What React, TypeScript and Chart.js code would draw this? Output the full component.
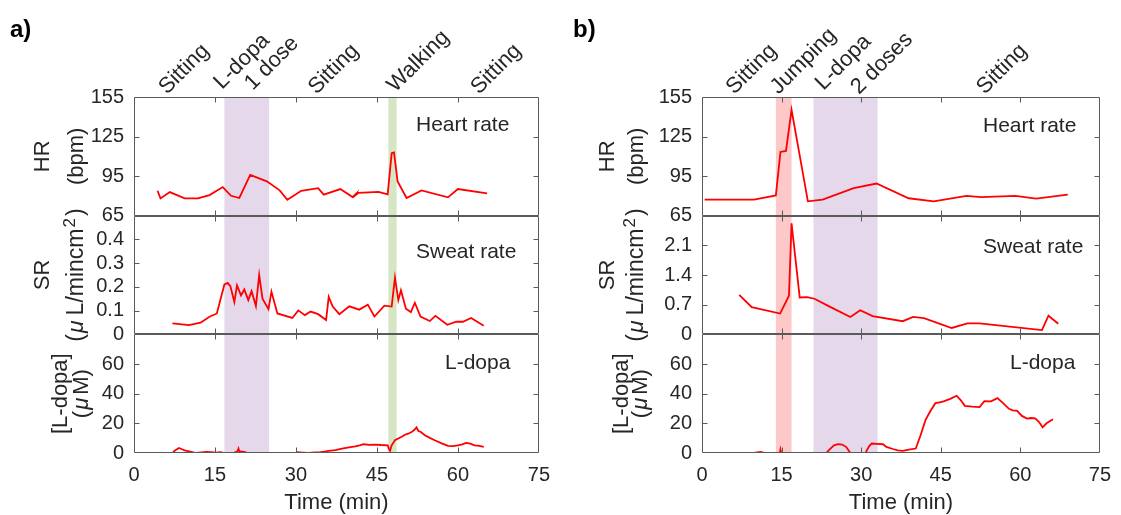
import React, { useEffect, useRef } from 'react';
import { Chart, registerables } from 'chart.js';

Chart.register(...registerables);

const FONT = '"Liberation Sans", Arial, Helvetica, sans-serif';
const TEXT = '#262626';
const FRAME = '#5a5a5a';
const LINE = '#ff0000';

// ---------- shared ticks ----------
const xTicks = [0, 15, 30, 45, 60, 75];
const hrTicks = [65, 95, 125, 155];
const srTicksA = [0, 0.1, 0.2, 0.3, 0.4];
const srTicksB = [0, 0.7, 1.4, 2.1];
const ldTicks = [0, 20, 40, 60];

// ---------- panel a data ----------
const hrTimeA = [4.36, 4.91, 6.63, 9.39, 11.84, 13.99, 16.44, 17.98, 19.51, 21.53, 24.6, 26.99, 28.4, 30.98, 34.11, 35.15, 38.22, 40.49, 41.17, 41.0, 41.6, 45.28, 46.99, 47.73, 48.16, 48.83, 50.49, 53.25, 58.16, 60.0, 65.4];
const hrA = [83.9, 78.1, 82.9, 78.1, 78.1, 80.6, 86.7, 80.1, 78.4, 96.0, 91.0, 84.2, 77.1, 83.9, 85.9, 80.9, 85.2, 79.1, 81.8, 80.4, 82.3, 83.1, 81.1, 112.4, 112.9, 91.0, 78.4, 84.2, 78.9, 85.2, 81.9];

const srTimeA = [7.12, 10.18, 12.33, 13.99, 15.34, 16.75, 17.36, 17.85, 18.59, 19.08, 19.82, 20.43, 21.17, 21.78, 22.58, 23.19, 23.8, 24.91, 25.46, 26.56, 29.33, 30.43, 31.66, 32.7, 34.11, 35.58, 36.07, 36.81, 38.04, 39.88, 41.72, 43.31, 44.54, 46.38, 47.73, 48.34, 48.96, 49.45, 50.37, 51.29, 52.02, 53.07, 54.79, 55.83, 58.04, 59.69, 60.92, 62.45, 64.79];
const srA = [0.046, 0.039, 0.049, 0.074, 0.088, 0.21, 0.217, 0.203, 0.136, 0.206, 0.164, 0.189, 0.144, 0.182, 0.119, 0.25, 0.15, 0.106, 0.18, 0.088, 0.069, 0.101, 0.081, 0.096, 0.085, 0.06, 0.158, 0.117, 0.085, 0.118, 0.104, 0.125, 0.075, 0.121, 0.117, 0.239, 0.144, 0.186, 0.108, 0.094, 0.133, 0.075, 0.056, 0.078, 0.04, 0.053, 0.053, 0.069, 0.036];

const ldTimeA = [7.24, 7.8, 8.34, 8.9, 9.39, 10.4, 11.53, 12.5, 13.37, 14.3, 15.21, 16.0, 16.75, 17.67, 19.2, 19.35, 19.51, 19.82, 20.3, 20.74, 21.04, 25.03, 29.94, 30.25, 31.3, 32.39, 33.5, 34.54, 35.3, 36.07, 37.3, 38.53, 39.8, 40.98, 41.8, 42.52, 43.6, 44.66, 45.8, 46.99, 47.2, 47.42, 47.73, 48.34, 48.96, 49.6, 50.18, 50.8, 51.41, 51.9, 52.33, 52.64, 53.2, 53.87, 54.8, 55.71, 57.0, 58.16, 59.1, 60.0, 60.8, 61.53, 62.3, 63.07, 64.0, 64.79];
const ldA = [0.7, 2.2, 3.4, 2.5, 1.8, 1.0, 0.0, 0.4, 0.7, 0.5, 0.2, 0.6, 0.0, -1.5, 1.4, 3.0, 1.2, 1.0, 0.8, 0.5, -1.5, -2.0, -1.5, 0.5, 0.3, 0.0, 0.4, 0.5, 1.0, 1.4, 2.0, 3.0, 3.8, 4.5, 5.2, 5.9, 5.5, 5.7, 5.4, 5.2, 3.0, 1.4, 5.2, 8.6, 9.8, 11.0, 12.3, 13.0, 14.1, 15.5, 17.3, 15.0, 14.0, 12.0, 10.2, 8.6, 6.5, 4.8, 4.6, 5.2, 5.8, 6.8, 6.3, 5.2, 4.8, 4.1];

const bandStartA = [16.75, 47.12];
const bandEndA = [25.03, 48.65];
const bandKindA = ['purple', 'green'];
const activityA = ['Sitting', 'L-dopa', '1 dose', 'Sitting', 'Walking', 'Sitting'];

// ---------- panel b data ----------
const hrTimeB = [0.5, 9.8, 13.92, 14.79, 15.83, 16.88, 19.96, 22.74, 28.59, 32.9, 38.94, 43.68, 49.85, 52.62, 59.09, 62.97, 68.95];
const hrB = [77.2, 77.2, 80.3, 113.3, 114.1, 145.3, 75.9, 77.2, 85.8, 89.4, 78.2, 75.9, 80.0, 79.0, 80.0, 78.0, 81.0];

const srTimeB = [7.02, 9.37, 14.73, 16.39, 16.88, 18.42, 19.84, 21.2, 23.97, 27.97, 29.82, 32.16, 37.83, 39.8, 41.84, 47.07, 50.03, 52.31, 64.08, 65.31, 67.16];
const srB = [0.93, 0.64, 0.49, 0.91, 2.62, 0.87, 0.88, 0.84, 0.66, 0.41, 0.57, 0.43, 0.31, 0.41, 0.38, 0.15, 0.26, 0.26, 0.10, 0.44, 0.25];

const ldTimeB = [9.8, 11.03, 11.95, 13.19, 14.54, 14.79, 15.03, 23.04, 23.54, 24.2, 24.89, 25.6, 26.43, 27.2, 27.97, 28.59, 30.75, 31.06, 31.5, 31.98, 33.0, 34.13, 34.75, 35.98, 36.9, 37.83, 39.0, 40.3, 41.2, 42.14, 43.0, 43.99, 44.8, 45.53, 46.8, 48.0, 48.8, 49.54, 50.9, 52.31, 53.23, 54.47, 55.7, 56.8, 57.86, 58.6, 59.4, 60.3, 61.24, 62.0, 62.79, 63.5, 64.2, 64.94, 66.17];
const ldB = [0.0, 0.7, 0.0, -2.0, -2.0, 2.3, -2.0, -2.0, 0.5, 3.0, 5.2, 6.0, 5.7, 4.0, 0.0, -2.0, -1.0, 1.8, 4.5, 6.4, 6.2, 5.9, 4.1, 2.7, 1.8, 1.4, 2.3, 3.0, 12.0, 22.3, 28.0, 33.6, 34.2, 34.8, 36.5, 38.6, 35.5, 31.8, 31.2, 30.9, 35.0, 34.8, 37.0, 33.5, 29.8, 28.8, 28.4, 25.0, 23.2, 23.6, 23.4, 21.0, 17.3, 20.0, 22.7];

const bandStartB = [13.92, 21.01];
const bandEndB = [16.88, 33.09];
const bandKindB = ['red', 'purple'];
const activityB = ['Sitting', 'Jumping', 'L-dopa', '2 doses', 'Sitting'];

// ---------- styling / layout ----------
const BAND_COLORS: Record<string, string> = {
  purple: 'rgb(228,216,234)',
  green: 'rgb(214,230,196)',
  red: 'rgb(252,200,200)',
};

type Spec = {
  label: string;
  labelX: number;
  canvasLeft: number;
  canvasWidth: number;
  axisWidth: number;
  padRight: number;
  hrT: number[]; hr: number[];
  srT: number[]; sr: number[];
  ldT: number[]; ld: number[];
  srMax: number; srTicks: number[];
  bandStart: number[]; bandEnd: number[]; bandKind: string[];
  activity: string[];
  activityAnchor: [number, number][];
  inner: [number, number][];
  titleX: [number, number, number, number];
};

const specA: Spec = {
  label: 'a)', labelX: 10, canvasLeft: 0, canvasWidth: 560, axisWidth: 134, padRight: 20,
  hrT: hrTimeA, hr: hrA, srT: srTimeA, sr: srA, ldT: ldTimeA, ld: ldA,
  srMax: 0.5, srTicks: srTicksA,
  bandStart: bandStartA, bandEnd: bandEndA, bandKind: bandKindA,
  activity: activityA,
  activityAnchor: [[6.1, 95], [16.3, 90], [22.0, 91], [33.8, 95], [48.4, 93], [63.9, 95]],
  inner: [[416, 125], [416, 252], [445, 363]],
  titleX: [43, 77, 61, 82],
};

const specB: Spec = {
  label: 'b)', labelX: 13, canvasLeft: 560, canvasWidth: 561, axisWidth: 142, padRight: 13,
  hrT: hrTimeB, hr: hrB, srT: srTimeB, sr: srB, ldT: ldTimeB, ld: ldB,
  srMax: 2.8, srTicks: srTicksB,
  bandStart: bandStartB, bandEnd: bandEndB, bandKind: bandKindB,
  activity: activityB,
  activityAnchor: [[6.1, 95], [14.4, 95], [22.9, 91], [29.6, 95], [53.3, 95]],
  inner: [[423, 126], [423, 247], [450, 363]],
  titleX: [48, 77, 62, 81],
};

function drawRotatedTitle(ctx: CanvasRenderingContext2D, x: number, y: number, parts: { t: string; italic?: boolean; sup?: boolean; gap?: number }[], size: number) {
  ctx.save();
  ctx.translate(x, y);
  ctx.rotate(-Math.PI / 2);
  ctx.textBaseline = 'middle';
  ctx.textAlign = 'left';
  const fontOf = (p: any) => `${p.italic ? 'italic ' : ''}${p.sup ? Math.round(size * 0.72) : size}px ${FONT}`;
  let total = 0;
  for (const p of parts) { ctx.font = fontOf(p); total += ctx.measureText(p.t).width + (p.gap || 0); }
  let cx = -total / 2;
  for (const p of parts) {
    ctx.font = fontOf(p);
    ctx.fillText(p.t, cx, p.sup ? -size * 0.28 : 0);
    cx += ctx.measureText(p.t).width + (p.gap || 0);
  }
  ctx.restore();
}

function makePlugin(p: Spec) {
  return {
    id: 'panelDecor',
    beforeDatasetsDraw(chart: any) {
      const { ctx, chartArea } = chart;
      const xs = chart.scales.x;
      ctx.save();
      p.bandStart.forEach((s, i) => {
        const x0 = xs.getPixelForValue(s);
        const x1 = xs.getPixelForValue(p.bandEnd[i]);
        ctx.fillStyle = BAND_COLORS[p.bandKind[i]];
        ctx.fillRect(x0, chartArea.top, x1 - x0, chartArea.bottom - chartArea.top);
      });
      ctx.restore();
    },
    afterDatasetsDraw(chart: any) {
      const { ctx, chartArea } = chart;
      const xs = chart.scales.x;
      const L = Math.round(chartArea.left) + 0.5;
      const R = Math.round(chartArea.right) - 0.5;
      ctx.save();
      ctx.strokeStyle = FRAME;
      ctx.lineWidth = 1;
      const TL = 5;
      for (const id of ['yHR', 'ySR', 'yLD']) {
        const s = chart.scales[id];
        const T = Math.round(s.top) + 0.5;
        const B = Math.round(s.bottom) - 0.5;
        ctx.beginPath();
        ctx.rect(L, T, R - L, B - T);
        for (const v of xTicks) {
          const px = Math.round(xs.getPixelForValue(v)) + 0.5;
          if (px <= L + 1 || px >= R - 1) continue;
          ctx.moveTo(px, B); ctx.lineTo(px, B - TL);
          ctx.moveTo(px, T); ctx.lineTo(px, T + TL);
        }
        for (const t of s.ticks) {
          const py = Math.round(s.getPixelForValue(t.value)) + 0.5;
          if (py <= T + 1 || py >= B - 1) continue;
          ctx.moveTo(L, py); ctx.lineTo(L + TL, py);
          ctx.moveTo(R, py); ctx.lineTo(R - TL, py);
        }
        ctx.stroke();
      }
      ctx.restore();
    },
    afterDraw(chart: any) {
      const { ctx, chartArea } = chart;
      const xs = chart.scales.x;
      ctx.save();
      ctx.fillStyle = '#000';
      ctx.font = `bold 24px ${FONT}`;
      ctx.textBaseline = 'alphabetic';
      ctx.textAlign = 'left';
      ctx.fillText(p.label, p.labelX, 37);

      ctx.fillStyle = TEXT;
      ctx.font = `22px ${FONT}`;
      p.activity.forEach((txt, i) => {
        const [t, y] = p.activityAnchor[i];
        ctx.save();
        ctx.translate(xs.getPixelForValue(t), y);
        ctx.rotate(-Math.PI / 4);
        ctx.fillText(txt, 0, 0);
        ctx.restore();
      });

      ctx.font = `21px ${FONT}`;
      ctx.textBaseline = 'middle';
      const innerTexts = ['Heart rate', 'Sweat rate', 'L-dopa'];
      innerTexts.forEach((txt, i) => ctx.fillText(txt, p.inner[i][0], p.inner[i][1]));

      const hr = chart.scales.yHR, sr = chart.scales.ySR, ld = chart.scales.yLD;
      const mid = (s: any) => (s.top + s.bottom) / 2;
      const [x1, x2, x3, x4] = p.titleX;
      drawRotatedTitle(ctx, x1, mid(hr), [{ t: 'HR' }], 22);
      drawRotatedTitle(ctx, x2, mid(hr), [{ t: '(bpm)' }], 22);
      drawRotatedTitle(ctx, x1, mid(sr), [{ t: 'SR' }], 22);
      drawRotatedTitle(ctx, x2, mid(sr), [{ t: '(', gap: 1 }, { t: 'μ', italic: true, gap: 5 }, { t: 'L/mincm', gap: 1 }, { t: '2', sup: true, gap: 2 }, { t: ')' }], 23);
      drawRotatedTitle(ctx, x3, mid(ld), [{ t: '[L-dopa]' }], 22);
      drawRotatedTitle(ctx, x4, mid(ld), [{ t: '(', gap: 1 }, { t: 'μ', italic: true, gap: 3 }, { t: 'M)' }], 22);

      ctx.textAlign = 'center';
      ctx.font = `22px ${FONT}`;
      ctx.fillText('Time (min)', (chartArea.left + chartArea.right) / 2, 503);
      ctx.restore();
    },
  };
}

function yScale(min: number, max: number, ticks: number[], weight: number, width: number) {
  return {
    type: 'linear',
    position: 'left',
    stack: 'panel',
    stackWeight: 1,
    weight,
    min,
    max,
    afterBuildTicks: (s: any) => { s.ticks = ticks.map((v) => ({ value: v })); },
    afterFit: (s: any) => { s.width = width; },
    grid: { display: false, drawTicks: false },
    border: { display: false },
    ticks: { font: { family: FONT, size: 20 }, color: TEXT, padding: 10, autoSkip: false, callback: (v: any) => String(v) },
  };
}

function buildConfig(p: Spec): any {
  const pts = (xs: number[], ys: number[]) => xs.map((x, i) => ({ x, y: ys[i] }));
  const style = { borderColor: LINE, borderWidth: 1.8, pointRadius: 0, tension: 0, fill: false };
  return {
    type: 'line',
    data: {
      datasets: [
        { data: pts(p.hrT, p.hr), yAxisID: 'yHR', ...style },
        { data: pts(p.srT, p.sr), yAxisID: 'ySR', ...style },
        { data: pts(p.ldT, p.ld), yAxisID: 'yLD', ...style },
      ],
    },
    options: {
      animation: false,
      responsive: false,
      layout: { padding: { left: 0, right: p.padRight, top: 97, bottom: 0 } },
      plugins: { legend: { display: false }, tooltip: { enabled: false } },
      scales: {
        x: {
          type: 'linear',
          position: 'bottom',
          min: 0,
          max: 75,
          afterBuildTicks: (s: any) => { s.ticks = xTicks.map((v) => ({ value: v })); },
          afterFit: (s: any) => { s.height = 62; },
          grid: { display: false, drawTicks: false },
          border: { display: false },
          ticks: { font: { family: FONT, size: 20 }, color: TEXT, padding: 10, maxRotation: 0, autoSkip: false, callback: (v: any) => String(v) },
        },
        yHR: yScale(65, 155, hrTicks, 3, p.axisWidth),
        ySR: yScale(0, p.srMax, p.srTicks, 2, p.axisWidth),
        yLD: yScale(0, 80, ldTicks, 1, p.axisWidth),
      },
    },
    plugins: [makePlugin(p)],
  };
}

function Panel({ spec }: { spec: Spec }) {
  const ref = useRef<HTMLCanvasElement>(null);
  useEffect(() => {
    const chart = new Chart(ref.current as HTMLCanvasElement, buildConfig(spec));
    return () => chart.destroy();
  }, [spec]);
  return (
    <canvas
      ref={ref}
      width={spec.canvasWidth}
      height={515}
      style={{ position: 'absolute', left: spec.canvasLeft, top: 0, width: spec.canvasWidth, height: 515, display: 'block' }}
    />
  );
}

export default function App() {
  return (
    <div style={{ position: 'absolute', left: 0, top: 0, width: 1121, height: 515, background: '#fff', overflow: 'hidden' }}>
      <Panel spec={specA} />
      <Panel spec={specB} />
    </div>
  );
}
